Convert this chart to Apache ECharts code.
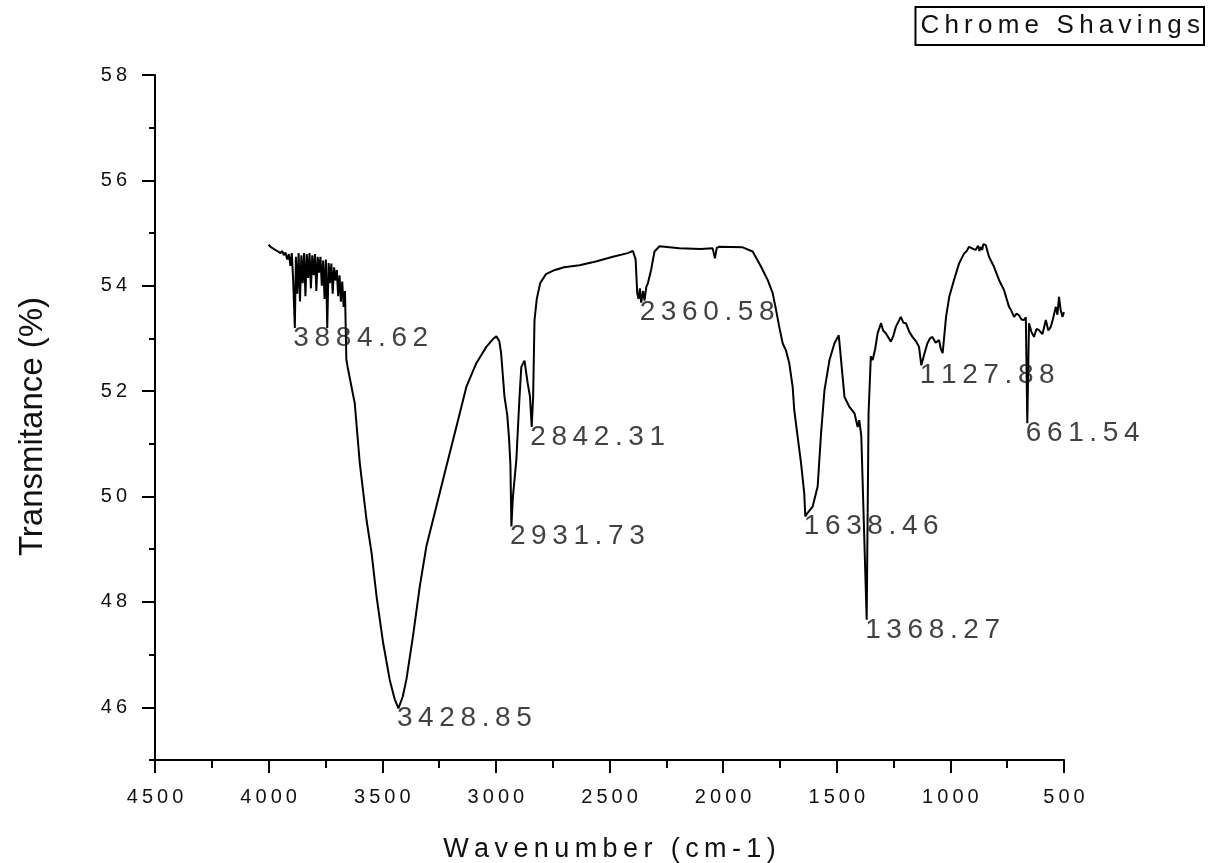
<!DOCTYPE html>
<html>
<head>
<meta charset="utf-8">
<script src="https://cdn.jsdelivr.net/npm/echarts@6/dist/echarts.min.js"></script>
<style>
  html, body { margin: 0; padding: 0; background: #fff; }
  #chart { width: 1208px; height: 863px; }
</style>
</head>
<body>
<div id="chart"></div>
<script>
// FTIR spectrum of chrome shavings
const seriesName = 'Chrome Shavings';

// Spectrum trace: wavenumber (cm-1) and transmittance (%)
const wavenumbers = [
  4000, 3992, 3985, 3978, 3970, 3962, 3955, 3948, 3940, 3933, 3926, 3918, 3911, 3904, 3898, 3892,
  3880, 3874, 3868, 3862, 3856, 3850, 3844, 3838, 3832, 3826, 3820, 3814, 3808, 3802, 3796, 3790,
  3784, 3778, 3772, 3766, 3760, 3754, 3748, 3742, 3736, 3730, 3724, 3718, 3712, 3706, 3700, 3694,
  3688, 3682, 3676, 3670, 3664, 3658, 3652,
  3621, 3599, 3569, 3547, 3525, 3496, 3467, 3445,
  3410, 3394, 3365, 3335, 3306, 3262, 3218, 3174, 3130, 3086, 3042, 3010, 2998, 2985, 2977, 2962,
  2950, 2942, 2936,
  2925, 2910, 2896, 2888, 2874, 2860, 2850,
  2836, 2830, 2820, 2805, 2780, 2740, 2700, 2632, 2560, 2485, 2420, 2397, 2385, 2378, 2372, 2366,
  2352, 2346, 2338, 2331, 2317, 2302, 2280, 2192, 2100, 2046, 2036, 2028, 2017, 1914, 1870, 1833,
  1804, 1782, 1767, 1753, 1738, 1724, 1709, 1694, 1687, 1672, 1657, 1643,
  1630, 1606, 1584, 1569, 1554, 1532, 1510, 1491, 1481, 1466, 1444, 1422, 1408, 1401, 1392,
  1360, 1350, 1342, 1331, 1320, 1305, 1296, 1284, 1262, 1251, 1240, 1218, 1207, 1196, 1180, 1167,
  1152, 1138,
  1115, 1101, 1090, 1079, 1065, 1050, 1042, 1034, 1019, 1005, 984, 962, 940, 928, 918, 900, 889,
  878, 872, 866, 860, 855, 844, 830, 808, 786, 764, 742, 731, 720, 709, 698, 687, 676, 668,
  654, 643, 632, 621, 610, 595, 580, 569, 558, 547, 536, 529, 522, 515, 507, 500
];
const transmittance = [
  54.78, 54.74, 54.76, 54.70, 54.72, 54.66, 54.69, 54.62, 54.66, 54.58, 54.63, 54.50, 54.60, 54.38, 54.62, 54.10,
  54.55, 53.85, 54.62, 53.70, 54.58, 54.05, 54.62, 53.80, 54.60, 54.15, 54.62, 53.95, 54.58, 54.20, 54.60, 53.90,
  54.55, 54.25, 54.55, 54.00, 54.48, 53.75, 54.50, 53.20, 54.43, 54.05, 54.42, 53.85, 54.35, 54.10, 54.30, 53.80,
  54.20, 53.70, 54.08, 53.60, 53.90, 52.60, 52.45,
  51.77, 50.64, 49.55, 48.93, 48.10, 47.22, 46.52, 46.15,
  46.20, 46.52, 47.34, 48.29, 49.05, 49.81, 50.57, 51.32, 52.08, 52.53, 52.84, 53.00, 53.04, 52.95, 52.72, 51.89,
  51.55, 51.10, 50.60,
  50.00, 50.69, 51.89, 52.46, 52.58, 52.15, 51.90,
  51.90, 53.35, 53.75, 54.05, 54.22, 54.30, 54.35, 54.39, 54.46, 54.55, 54.62, 54.66, 54.50, 53.86, 53.75, 53.95,
  53.90, 53.72, 53.98, 54.05, 54.30, 54.65, 54.75, 54.71, 54.70, 54.71, 54.52, 54.72, 54.74, 54.73, 54.65, 54.36,
  54.11, 53.86, 53.54, 53.22, 52.91, 52.78, 52.53, 52.08, 51.64, 51.13, 50.63, 50.06,
  49.68, 49.81, 50.19, 51.20, 52.02, 52.59, 52.91, 53.06, 52.59, 51.89, 51.70, 51.58, 51.32, 51.45, 51.15,
  51.58, 52.66, 52.59, 52.80, 53.10, 53.29, 53.15, 53.10, 52.94, 53.05, 53.22, 53.41, 53.30, 53.29, 53.12, 53.03,
  52.95, 52.84,
  52.70, 52.91, 53.00, 53.03, 52.92, 52.97, 52.80, 52.72, 53.41, 53.79, 54.11, 54.42, 54.61, 54.66, 54.74, 54.70, 54.68,
  54.76, 54.66, 54.74, 54.68, 54.79, 54.77, 54.55, 54.36, 54.11, 53.92, 53.60, 53.52, 53.41, 53.47, 53.44, 53.36, 53.35, 53.40,
  53.29, 53.12, 53.03, 53.18, 53.16, 53.08, 53.35, 53.15, 53.22, 53.40, 53.60, 53.45, 53.79, 53.55, 53.41, 53.50
];

// Labelled absorption bands
const peakWavenumbers = [3884.62, 3428.85, 2931.73, 2842.31, 2360.58, 1638.46, 1368.27, 1127.88, 661.54];
const peakTransmittance = [53.20, 45.98, 49.43, 51.32, 53.68, 49.62, 47.66, 52.49, 51.39];

// Axis tick values
const xTickValues = [4500, 4000, 3500, 3000, 2500, 2000, 1500, 1000, 500];
const yTickValues = [46, 48, 50, 52, 54, 56, 58];

const FONT = '"Liberation Sans", Arial, sans-serif';
const spaced = s => String(s).split('').join('\u2009');

const peakPoints = peakWavenumbers.map((w, i) => [w, peakTransmittance[i]]);
const spectrum = wavenumbers.map((w, i) => [w, transmittance[i]])
  .concat(peakPoints)
  .sort((a, b) => b[0] - a[0]);

const chart = echarts.init(document.getElementById('chart'), null, { renderer: 'canvas' });

const axisLineStyle = { color: '#000', width: 2 };

chart.setOption({
  animation: false,
  backgroundColor: '#fff',
  grid: { left: 155, right: 144, top: 75, bottom: 103, containLabel: false, outerBoundsMode: 'none' },
  legend: {
    data: [seriesName],
    right: 4,
    top: 7,
    icon: 'none',
    itemWidth: 0,
    itemHeight: 0,
    itemGap: 0,
    padding: [2, 4, 2, 0],
    borderColor: '#000',
    borderWidth: 2,
    selectedMode: false,
    formatter: name => spaced(name),
    textStyle: { fontFamily: FONT, fontSize: 26, color: '#111', lineHeight: 34 }
  },
  xAxis: {
    type: 'value',
    inverse: true,
    min: 500,
    max: 4500,
    interval: 500,
    name: spaced('Wavenumber (cm-1)'),
    nameLocation: 'middle',
    nameGap: 76,
    nameTextStyle: { fontFamily: FONT, fontSize: 27, color: '#111' },
    axisLine: { show: true, onZero: false, lineStyle: axisLineStyle },
    axisTick: { show: true, length: 13, lineStyle: { color: '#000', width: 2 } },
    minorTick: { show: true, splitNumber: 2, length: 8, lineStyle: { color: '#000', width: 2 } },
    axisLabel: {
      margin: 27,
      fontFamily: FONT,
      fontSize: 20,
      color: '#111',
      formatter: v => spaced(v)
    },
    splitLine: { show: false },
    minorSplitLine: { show: false }
  },
  yAxis: [
    {
      type: 'value',
      position: 'left',
      min: 45,
      max: 58,
      interval: 1,
      name: 'Transmitance (%)',
      nameLocation: 'middle',
      nameRotate: 90,
      nameGap: 106,
      nameTextStyle: { fontFamily: FONT, fontSize: 33, color: '#111', padding: [0, 18, 0, 0] },
      axisLine: { show: true, onZero: false, lineStyle: axisLineStyle },
      axisTick: { show: true, length: 6, lineStyle: { color: '#000', width: 2 } },
      axisLabel: {
        customValues: yTickValues,
        margin: 28,
        fontFamily: FONT,
        fontSize: 20,
        color: '#111',
        formatter: v => spaced(v)
      },
      splitLine: { show: false }
    },
    {
      type: 'value',
      position: 'left',
      min: 45,
      max: 58,
      interval: 1,
      axisLine: { show: false },
      axisTick: { show: true, customValues: yTickValues, length: 13, lineStyle: { color: '#000', width: 2 } },
      axisLabel: { show: false },
      splitLine: { show: false }
    }
  ],
  series: [
    {
      name: seriesName,
      type: 'line',
      data: spectrum,
      showSymbol: false,
      symbol: 'none',
      lineStyle: { color: '#000', width: 2 },
      itemStyle: { color: '#000' },
      z: 2
    },
    {
      name: 'peaks',
      type: 'scatter',
      data: peakPoints,
      symbol: 'circle',
      symbolSize: 1,
      itemStyle: { color: 'rgba(0,0,0,0)' },
      z: 3,
      label: {
        show: true,
        position: 'right',
        distance: 0,
        offset: [-2, 10],
        fontFamily: FONT,
        fontSize: 28,
        color: '#111',
        formatter: p => spaced(p.value[0].toFixed(2))
      }
    }
  ]
});
</script>
</body>
</html>
